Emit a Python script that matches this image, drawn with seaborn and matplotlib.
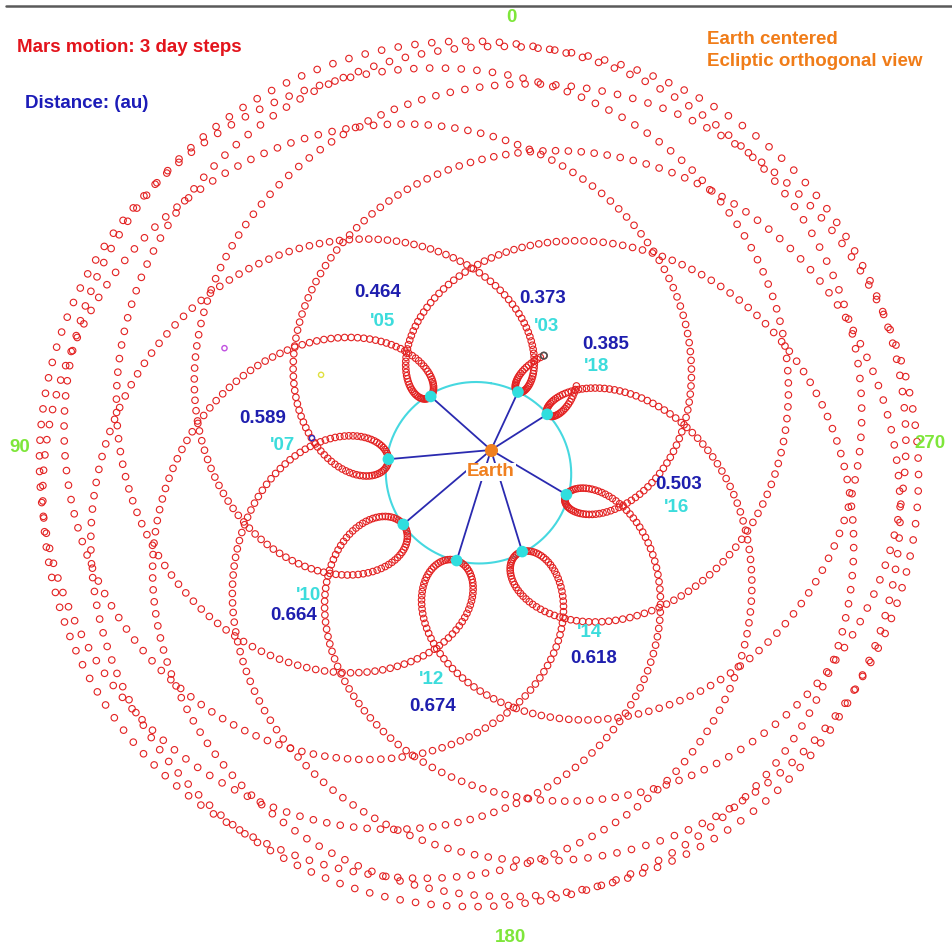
import numpy as np
import pandas as pd
import seaborn as sns
import matplotlib.pyplot as plt

# Keplerian elements (J2000) and rates per century: a [au], e, I/L/peri/node [deg]
earth_elements = [1.00000261, 0.01671123, -0.00001531, 100.46457166, 102.93768193, 0.0]
earth_rates = [0.00000562, -0.00004392, -0.01294668, 35999.37244981, 0.32327364, 0.0]
mars_elements = [1.52371034, 0.09339410, 1.84969142, -4.55343205, -23.94362959, 49.55953891]
mars_rates = [0.00001847, 0.00007882, -0.00813131, 19140.30268499, 0.44441088, -0.29257343]

# track span, sampled every 3 days
track_start = "2003-06-20"
track_end = "2018-10-05"
step_days = 3

# closest approaches
approach_dates = ["2003-08-27", "2005-10-30", "2007-12-18", "2010-01-27",
                  "2012-03-05", "2014-04-14", "2016-05-30", "2018-07-31"]
approach_au = [0.373, 0.464, 0.589, 0.664, 0.674, 0.618, 0.503, 0.385]
approach_years = ["'03", "'05", "'07", "'10", "'12", "'14", "'16", "'18"]

# small extra objects seen in the view (au, plot coords)
extra_x = [-1.523, -0.971, -1.023]
extra_y = [0.592, 0.437, 0.069]
extra_colors = ["#c050e0", "#e0e040", "#3030c0"]


def helio(elements, rates, jd):
    T = (np.asarray(jd) - 2451545.0) / 36525.0
    a, e, inc, L, peri, node = [el + r * T for el, r in zip(elements, rates)]
    inc, node = np.radians(inc), np.radians(node)
    w = np.radians(peri) - node
    M = np.radians((L - peri) % 360.0)
    E = M.copy() if np.ndim(M) else M
    for _ in range(30):
        E = E - (E - e * np.sin(E) - M) / (1 - e * np.cos(E))
    xp = a * (np.cos(E) - e)
    yp = a * np.sqrt(1 - e ** 2) * np.sin(E)
    x = (np.cos(w) * np.cos(node) - np.sin(w) * np.sin(node) * np.cos(inc)) * xp + \
        (-np.sin(w) * np.cos(node) - np.cos(w) * np.sin(node) * np.cos(inc)) * yp
    y = (np.cos(w) * np.sin(node) + np.sin(w) * np.cos(node) * np.cos(inc)) * xp + \
        (-np.sin(w) * np.sin(node) + np.cos(w) * np.cos(node) * np.cos(inc)) * yp
    return x, y


def geo_plot(jd):
    mx, my = helio(mars_elements, mars_rates, jd)
    ex, ey = helio(earth_elements, earth_rates, jd)
    X, Y = mx - ex, my - ey
    # longitude 0 at top, 90 to the left
    return -Y, X


dates = pd.date_range(track_start, track_end, freq=f"{step_days}D")
jd = np.array([d.to_julian_date() for d in dates])
px, py = geo_plot(jd)
track = pd.DataFrame({"x": px, "y": py})

ajd = np.array([pd.Timestamp(d).to_julian_date() for d in approach_dates])
ax_, ay_ = geo_plot(ajd)

# opposition locus: r_mars(lon) - r_earth(lon)
lon = np.radians(np.linspace(0, 360, 361))
def r_at(elements, lon):
    a, e, peri = elements[0], elements[1], np.radians(elements[4])
    return a * (1 - e ** 2) / (1 + e * np.cos(lon - peri))
mid_T = 0.10
mars_mid = [el + r * mid_T for el, r in zip(mars_elements, mars_rates)]
earth_mid = [el + r * mid_T for el, r in zip(earth_elements, earth_rates)]
d_opp = r_at(mars_mid, lon) - r_at(earth_mid, lon)
locus = pd.DataFrame({"x": -np.sin(lon) * d_opp, "y": np.cos(lon) * d_opp})

W, H = 953, 948
fig = plt.figure(figsize=(W / 100, H / 100), dpi=100)
ax = fig.add_axes([0, 0, 1, 1])
sns.set_style("white")
plt.rcParams['font.family'] = ['Liberation Sans', 'DejaVu Sans']

ex_px, ey_px = 491, 450
sx, sy = 175.0, 172.0
ax.set_xlim(-ex_px / sx, (W - ex_px) / sx)
ax.set_ylim(-(H - ey_px) / sy, ey_px / sy)
ax.axis("off")

# opposition circle
sns.lineplot(data=locus, x="x", y="y", sort=False, color="#46d8e0", lw=1.5, ax=ax, zorder=1)

# Mars track
sns.scatterplot(data=track, x="x", y="y", s=22, marker="o", linewidth=0.8,
                edgecolor="#e32222", ax=ax, zorder=2, legend=False)
ax.collections[-1].set_facecolor("none")
ax.scatter(px[:1], py[:1], s=22, facecolor="none", edgecolor="#505050", lw=1.2, zorder=3)

# lines Earth -> closest approach
for x, y in zip(ax_, ay_):
    ax.plot([0, x], [0, y], color="#2a2ab0", lw=1.3, zorder=3)
ax.scatter(ax_, ay_, s=70, color="#30dede", edgecolor="none", zorder=5)

# extra small objects
ax.scatter(extra_x, extra_y, s=14, facecolor="none", edgecolor=extra_colors, lw=1.0, zorder=3)

# Earth
ax.scatter([0], [0], s=70, color="#f08020", zorder=6)
ax.annotate("Earth", (0, 0), xytext=(0, -22), textcoords="offset pixels",
            ha="center", va="center", color="#f08020", fontsize=13.5, fontweight="bold",
            bbox=dict(fc="white", ec="none", pad=0.5), zorder=6)

# labels near each approach (pixel offsets)
dist_offsets = [(25, 94), (-53, 104), (-126, 41), (-110, -91), (-24, -146), (71, -107), (112, 10), (58, 70)]
year_offsets = [(29, 66), (-48, 75), (-106, 14), (-95, -71), (-25, -119), (67, -81), (110, -13), (49, 48)]
for i in range(len(approach_au)):
    ax.annotate(f"{approach_au[i]:.3f}", (ax_[i], ay_[i]), xytext=dist_offsets[i],
                textcoords="offset pixels", ha="center", va="center",
                color="#1e1eae", fontsize=13.5, fontweight="bold", zorder=7)
    ax.annotate(approach_years[i], (ax_[i], ay_[i]), xytext=year_offsets[i],
                textcoords="offset pixels", ha="center", va="center",
                color="#3cdcdc", fontsize=13.5, fontweight="bold", zorder=7)

def ftext(x, y, s, **kw):
    fig.text(x / W, 1 - y / H, s, fontweight="bold", fontsize=13.5, **kw)

ftext(17, 47, "Mars motion: 3 day steps", color="#e3141c", va="center")
ftext(25, 104, "Distance: (au)", color="#1c1cb8", va="center")
ftext(707, 40, "Earth centered", color="#f07c18", va="center")
ftext(707, 62, "Ecliptic orthogonal view", color="#f07c18", va="center")
ftext(511, 18, "0", color="#7ee63a", va="center", ha="center", )
ftext(20, 447, "90", color="#7ee63a", va="center", ha="center")
ftext(930, 443, "270", color="#7ee63a", va="center", ha="center")
ftext(511, 938, "180", color="#7ee63a", va="center", ha="center")

# top frame line
fig.add_artist(plt.Line2D([6 / W, 1], [1 - 6 / H, 1 - 6 / H], color="#5a5a5a", lw=1.8))

fig.savefig("out.png", dpi=100)
